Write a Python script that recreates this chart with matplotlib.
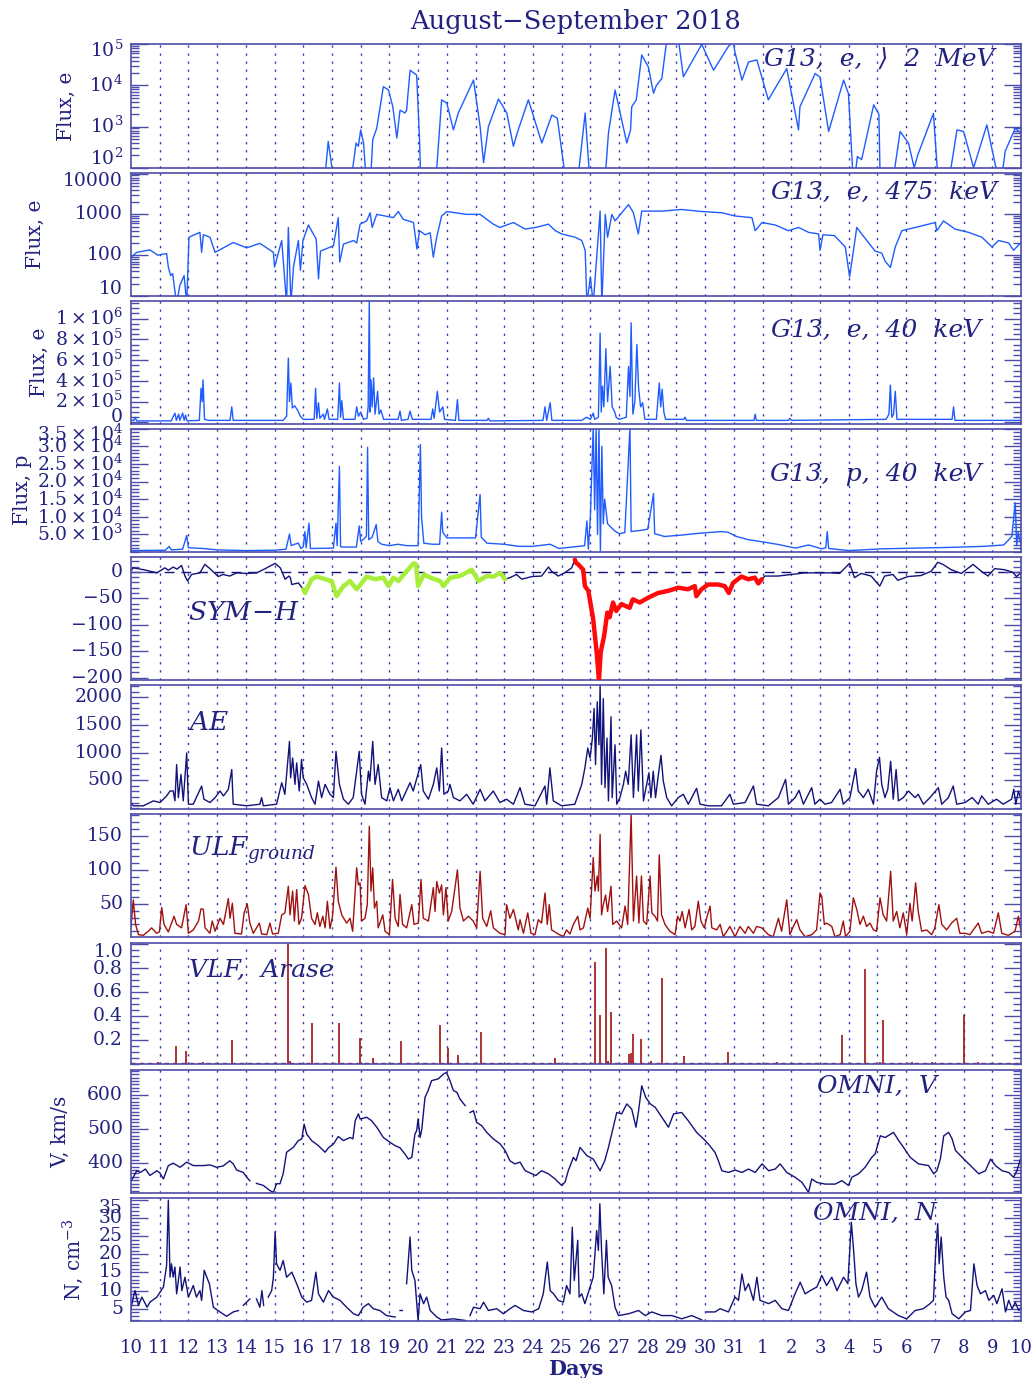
import numpy as np
import matplotlib
matplotlib.use('Agg')
import matplotlib.pyplot as plt
import matplotlib.transforms as mtransforms
from matplotlib.ticker import FixedLocator, MultipleLocator, LogLocator, NullFormatter

plt.rcParams['font.family'] = ['DejaVu Serif', 'DejaVu Sans']
plt.rcParams['mathtext.fontset'] = 'dejavuserif'

nan = float('nan')

# ---------------- DATA (t = days since 10 Aug 2018 00 UT) ----------------
DAY_LABELS = ['10', '11', '12', '13', '14', '15', '16', '17', '18', '19', '20', '21', '22', '23', '24',
              '25', '26', '27', '28', '29', '30', '31', '1', '2', '3', '4', '5', '6', '7', '8', '9', '10']

# G13 electrons > 2 MeV (log10 flux)
E2_t = [0, 6.72, 6.87, 7.1, 7.63, 7.84, 7.92, 8.0, 8.1, 8.21, 8.33, 8.42, 8.56, 8.79, 8.97, 9.12, 9.26,
        9.37, 9.54, 9.6, 9.72, 9.95, 10.05, 10.1, 10.6, 10.82, 11.0, 11.23, 11.4, 11.93, 12.16, 12.28,
        12.45, 12.8, 13.09, 13.32, 13.45, 13.84, 14.31, 14.66, 14.85, 15.18, 15.53, 15.82, 16.0, 16.49,
        16.63, 16.86, 17.27, 17.4, 17.44, 17.6, 17.79, 18.02, 18.2, 18.3, 18.49, 18.66, 19.07, 19.24,
        19.88, 20.29, 20.81, 20.98, 21.04, 21.28, 21.51, 21.8, 22.2, 22.84, 23.25, 23.3, 23.83, 24.0,
        24.3, 24.82, 24.99, 25.17, 25.3, 25.45, 25.87, 26.05, 26.1, 26.5, 26.79, 27.08, 27.28, 27.4,
        27.95, 28.13, 28.45, 28.77, 29.0, 29.35, 29.81, 30.28, 30.45, 30.8, 31.0]
E2_log = [1.5, 1.5, 2.64, 1.5, 1.5, 2.60, 2.52, 2.92, 2.6, 1.5, 1.5, 2.68, 2.96, 3.97, 3.89, 3.48, 2.72,
          3.4, 3.33, 3.4, 4.37, 4.25, 2.68, 1.5, 1.5, 3.65, 3.57, 2.92, 3.33, 4.13, 3.0, 2.12,
          3.0, 3.67, 3.33, 2.52, 2.84, 3.65, 2.6, 3.28, 3.2, 1.5, 1.5, 3.33, 1.5, 1.5,
          2.84, 3.89, 2.6, 2.92, 3.48, 3.65, 4.74, 4.45, 3.81, 4.0, 4.17, 5.1, 5.1, 4.21,
          5.0, 4.37, 4.95, 5.05, 4.8, 4.13, 4.57, 4.62, 3.65, 4.41, 2.92, 3.48, 4.29, 4.2,
          2.88, 4.13, 3.8, 1.5, 2.27, 2.2, 3.53, 3.3, 1.5, 1.5, 2.88, 2.6, 2.0, 2.3,
          3.32, 1.5, 1.5, 2.92, 2.88, 2.0, 3.04, 1.5, 2.4, 2.96, 2.84]

# G13 electrons 475 keV (log10 flux)
E475_t = [0, 0.2, 0.66, 0.93, 1.24, 1.3, 1.38, 1.45, 1.59, 1.7, 1.85, 1.94, 2.02, 2.4, 2.46, 2.52, 2.75,
          2.93, 3.56, 4.03, 4.49, 4.96, 5.0, 5.25, 5.42, 5.48, 5.57, 5.66, 5.83, 5.9, 5.99, 6.18, 6.35,
          6.45, 6.53, 6.6, 7.05, 7.22, 7.27, 7.4, 7.75, 7.86, 7.98, 8.21, 8.33, 8.4, 8.56, 9.14, 9.31,
          9.48, 9.84, 9.96, 10.05, 10.25, 10.42, 10.53, 10.65, 10.82, 11.0, 11.69, 12.16, 12.62, 12.85,
          13.32, 13.73, 14.1, 14.54, 14.78, 15.0, 15.47, 15.7, 15.82, 15.88, 16.0, 16.1, 16.34, 16.4,
          16.52, 16.6, 16.75, 16.86, 17.33, 17.5, 17.67, 17.79, 18.49, 19.18, 19.88, 20.58, 21.04,
          21.63, 21.74, 21.98, 22.44, 22.9, 23.25, 23.6, 23.95, 24.0, 24.1, 24.5, 24.88, 25.03, 25.28,
          25.45, 25.92, 26.15, 26.27, 26.45, 26.62, 26.85, 27.32, 28.01, 28.07, 28.3, 28.7, 29.17,
          29.64, 29.99, 30.22, 30.57, 30.74, 31.0]
E475_log = [1.95, 2.07, 2.13, 2.0, 2.04, 1.71, 1.5, 1.55, 0.8, 1.26, 1.5, 0.8, 2.44, 2.56, 2.07, 2.5, 2.44,
            2.07, 2.31, 2.18, 2.29, 2.07, 1.71, 2.36, 0.8, 2.68, 0.8, 1.71, 2.36, 1.63, 2.36, 2.74, 2.52,
            2.4, 1.42, 2.1, 2.23, 2.92, 1.83, 2.27, 2.36, 2.3, 2.76, 2.84, 3.04, 2.68, 3.0, 2.92, 3.07,
            2.88, 2.8, 2.15, 2.6, 2.5, 2.55, 1.95, 2.45, 2.96, 3.07, 3.0, 3.0, 2.76, 2.68,
            2.8, 2.64, 2.68, 2.76, 2.6, 2.52, 2.44, 2.36, 2.12, 0.8, 1.47, 0.8, 3.08, 0.8,
            3.0, 2.44, 3.0, 2.84, 3.24, 3.04, 2.52, 3.08, 3.08, 3.12, 3.07, 3.04, 2.96,
            2.92, 2.6, 2.8, 2.74, 2.6, 2.68, 2.56, 2.52, 2.12, 2.5, 2.48, 2.2, 1.47, 2.68,
            2.52, 2.1, 2.05, 1.85, 1.7, 2.2, 2.6, 2.68, 2.8, 2.6, 2.84, 2.64, 2.56,
            2.44, 2.2, 2.36, 2.3, 2.12, 2.31]

# G13 electrons 40 keV (units of 1e5)
E40_t = [0, 0.1, 0.14, 0.2, 1.4, 1.53, 1.58, 1.66, 1.7, 1.8, 1.85, 1.9, 1.95, 2.38, 2.44, 2.48, 2.51, 2.56,
         2.7, 3.45, 3.51, 3.56, 5.3, 5.42, 5.48, 5.52, 5.57, 5.62, 5.7, 5.8, 5.9, 6.0, 6.38, 6.43, 6.47,
         6.53, 6.58, 6.7, 6.74, 6.84, 6.9, 7.2, 7.26, 7.3, 7.34, 7.4, 7.8, 7.86, 7.92, 8.0, 8.1, 8.22,
         8.26, 8.3, 8.33, 8.36, 8.4, 8.45, 8.5, 8.59, 8.64, 8.7, 8.8, 9.3, 9.37, 9.42, 9.65, 9.72, 9.8,
         10.45, 10.51, 10.56, 10.67, 10.75, 10.86, 10.92, 11.3, 11.37, 11.42, 12.4, 12.45, 12.5, 14.35,
         14.42, 14.48, 14.6, 14.66, 15.7, 15.86, 16.0, 16.1, 16.15, 16.28, 16.34, 16.38, 16.42, 16.47,
         16.54, 16.6, 16.69, 16.76, 16.85, 16.9, 17.0, 17.25, 17.33, 17.38, 17.42, 17.48, 17.55, 17.62,
         17.68, 17.75, 17.82, 17.9, 18.3, 18.4, 18.45, 18.5, 18.56, 18.62, 19.25, 19.3, 19.35, 21.7,
         21.74, 21.78, 22.9, 22.95, 23.0, 26.3, 26.4, 26.45, 26.5, 26.56, 26.62, 26.68, 26.9, 28.6,
         28.65, 28.7, 31.0]
E40_v = [0.2, 0.2, 0.5, 0.15, 0.15, 0.9, 0.2, 0.8, 0.2, 0.9, 0.2, 0.7, 0.15, 0.2, 3.3, 2.0, 4.1, 0.3,
         0.2, 0.2, 1.5, 0.2, 0.2, 0.6, 6.2, 2.0, 3.8, 1.4, 1.6, 1.2, 0.6, 0.3, 0.3, 3.3, 0.4,
         1.9, 0.4, 0.8, 0.3, 1.3, 0.3, 0.3, 3.8, 0.5, 2.1, 0.3, 0.3, 1.5, 0.6, 1.0, 0.3, 0.4,
         1.5, 11.7, 1.0, 4.1, 1.5, 4.3, 0.8, 3.0, 0.8, 1.2, 0.3, 0.3, 1.1, 0.2, 0.3, 1.1, 0.3,
         0.3, 1.3, 0.4, 3.0, 1.0, 1.5, 0.3, 0.2, 2.2, 0.2, 0.2, 0.4, 0.15, 0.2,
         1.5, 0.2, 1.9, 0.2, 0.2, 0.5, 0.3, 0.9, 0.3, 0.5, 8.6, 1.0, 3.5, 1.5,
         7.1, 2.0, 5.4, 1.5, 1.0, 0.5, 0.3, 0.5, 5.4, 2.5, 9.6, 0.8, 2.0, 7.5,
         3.3, 1.5, 1.9, 0.3, 0.3, 3.8, 1.5, 3.2, 1.0, 0.3, 0.3, 0.5, 0.2, 0.2,
         0.8, 0.2, 0.2, 0.4, 0.2, 0.3, 0.8, 3.6, 0.5, 0.8, 3.0, 0.3, 0.3, 0.3,
         1.5, 0.2, 0.2]

# G13 protons 40 keV (units of 1e3)
P40_t = [0, 1.2, 1.33, 1.4, 1.8, 1.94, 2.0, 2.5, 3.0, 4.0, 5.0, 5.4, 5.52, 5.58, 5.7, 5.83, 5.92, 6.0, 6.06,
         6.1, 6.2, 6.25, 7.05, 7.14, 7.18, 7.26, 7.3, 7.4, 7.85, 7.95, 8.0, 8.1, 8.2, 8.24, 8.28, 8.4,
         8.54, 8.6, 8.73, 9.0, 9.3, 9.6, 10.0, 10.08, 10.12, 10.2, 10.5, 10.75, 10.82, 10.86, 11.0, 11.5,
         12.0, 12.16, 12.2, 12.4, 13.0, 13.5, 14.0, 14.6, 14.9, 15.6, 15.8, 15.88, 15.93, 16.0, 16.1,
         16.15, 16.2, 16.25, 16.3, 16.35, 16.4, 16.45, 16.5, 16.6, 16.72, 16.85, 17.0, 17.2, 17.38,
         17.42, 17.6, 17.82, 18.0, 18.2, 18.24, 18.58, 19.18, 19.76, 20.58, 20.8, 21.09, 21.5, 21.98,
         22.5, 23.15, 23.6, 24.06, 24.2, 24.25, 24.3, 25.0, 26.15, 27.3, 28.5, 29.7, 30.4, 30.68, 30.8,
         30.85, 30.9, 31.0]
P40_v = [0.4, 0.5, 1.6, 0.6, 0.8, 4.7, 1.2, 1.0, 0.6, 0.4, 0.5, 0.8, 5.1, 1.8, 2.2, 2.5, 1.0, 1.5, 5.8,
         1.2, 8.2, 1.0, 1.1, 8.2, 1.8, 24.3, 1.5, 1.4, 1.4, 7.4, 3.0, 3.6, 4.5, 29.7, 3.5, 4.2,
         7.8, 3.0, 2.2, 1.8, 2.2, 1.8, 1.8, 30.5, 10.0, 2.5, 2.2, 2.2, 11.3, 5.6, 4.0, 4.0,
         4.0, 16.3, 4.2, 2.5, 2.2, 1.6, 1.6, 2.2, 1.0, 1.6, 1.8, 8.8, 0.8, 10.0, 35.5,
         12.0, 35.5, 5.0, 35.5, 0.3, 30.0, 8.0, 15.0, 8.0, 7.0, 6.0, 5.2, 5.5, 35.5,
         5.8, 6.0, 6.2, 6.5, 16.6, 5.2, 4.4, 4.8, 5.3, 5.8, 5.6, 4.4, 3.5, 2.9,
         2.2, 1.1, 2.0, 0.9, 1.2, 5.8, 1.0, 0.4, 0.9, 1.1, 1.3, 1.6, 2.0, 4.4, 14.0,
         1.8, 5.5, 2.0]

# SYM-H (nT)
SYMH_t = [0, 0.07, 0.44, 0.9, 1.18, 1.3, 1.47, 1.6, 1.76, 1.88, 1.97, 2.11, 2.4, 2.57, 2.75, 3.04, 3.2,
          3.44, 3.68, 4.03, 4.38, 4.73, 5.02, 5.2, 5.37, 5.5, 5.55, 5.6, 5.83, 6.0, 6.06, 6.29, 6.47,
          6.76, 6.99, 7.16, 7.4, 7.63, 7.86, 8.04, 8.21, 8.5, 8.79, 8.97, 9.14, 9.31, 9.55, 9.84, 9.93,
          10.0, 10.2, 10.42, 10.77, 10.88, 11.12, 11.46, 11.87, 12.1, 12.39, 12.62, 12.86, 13.03, 13.2,
          13.43, 13.61, 13.96, 14.3, 14.54, 14.65, 14.88, 15.1, 15.35, 15.46, 15.5, 15.58, 15.75, 15.81,
          15.93, 16.1, 16.22, 16.3, 16.36, 16.48, 16.59, 16.67, 16.79, 16.9, 17.08, 17.37, 17.48, 17.72,
          18.01, 18.36, 18.71, 19.06, 19.4, 19.64, 19.69, 19.87, 20.1, 20.45, 20.68, 20.82, 20.97, 21.26,
          21.5, 21.73, 21.85, 21.97, 22.08, 22.54, 23.0, 23.47, 23.93, 24.39, 24.68, 25.03, 25.2, 25.43,
          25.78, 26.08, 26.25, 26.54, 26.71, 27.06, 27.52, 27.87, 28.1, 28.28, 28.57, 28.92, 29.33,
          29.62, 29.85, 30.08, 30.43, 30.72, 30.84, 31.0]
SYMH_v = [1, 7.5, 4, -2, 7.5, 3, 9, 5, 12, -8, -17.5, -5, -2, 14, 6, -9, -5,
          -8, -2, -3, -2, 7.5, 16, 7.5, -14, -8, -11, -24, -21, -33, -40, -14, -9,
          -14, -17.5, -46, -27, -17.5, -33, -21, -9, -14, -11, -27, -11, -17.5, -2, 16, 14,
          -27, -5, -11, -17.5, -27, -11, -8, 4, -17.5, -8, -9, -2, -14, -11,
          -5, -14, -9, -8, 9, 1, -8, -2, 7.5, 23, 17, 14, 4, -27,
          -36, -90, -152, -205, -152, -121, -77, -86, -58, -74, -61, -68, -52, -58,
          -49, -40, -36, -30, -33, -27, -46, -33, -24, -24, -27, -40, -21, -9,
          -14, -11, -22, -14, -8, -8, -5, -2, -2, -2, -3, 16, -11, -3,
          -8, -27, -8, -5, -16, -9, -7, 1, 18, 14, 4, -3, 14,
          1, -8, 6, 4, -1, -9, -2]
GREEN_INTERVAL = (6.0, 13.03)
RED_INTERVAL = (15.46, 21.97)

# AE (nT)
AE_t = [0, 0.08, 0.43, 0.78, 1.01, 1.24, 1.36, 1.47, 1.53, 1.59, 1.65, 1.74, 1.82, 1.94, 2.0, 2.17, 2.46,
        2.54, 2.75, 2.93, 3.1, 3.22, 3.39, 3.51, 3.56, 4.03, 4.49, 4.55, 4.61, 5.07, 5.25, 5.36, 5.52,
        5.56, 5.63, 5.71, 5.77, 5.86, 5.94, 6.0, 6.12, 6.29, 6.41, 6.53, 6.64, 6.76, 6.93, 7.05, 7.14,
        7.26, 7.4, 7.57, 7.74, 7.95, 8.03, 8.15, 8.27, 8.32, 8.42, 8.5, 8.61, 8.73, 8.91, 9.02, 9.14,
        9.31, 9.43, 9.72, 9.83, 10.09, 10.18, 10.36, 10.53, 10.65, 10.74, 10.82, 10.9, 11.05, 11.11,
        11.23, 11.46, 11.69, 11.92, 12.16, 12.33, 12.62, 12.85, 13.08, 13.32, 13.55, 13.72, 14.07,
        14.42, 14.48, 14.59, 14.71, 15.0, 15.46, 15.7, 15.81, 15.91, 15.99, 16.07, 16.13, 16.18, 16.24,
        16.3, 16.34, 16.39, 16.45, 16.51, 16.58, 16.63, 16.72, 16.76, 16.86, 16.92, 17.03, 17.15,
        17.23, 17.32, 17.42, 17.5, 17.61, 17.67, 17.76, 17.85, 17.96, 18.04, 18.11, 18.19, 18.27,
        18.37, 18.46, 18.54, 18.66, 18.83, 19.06, 19.24, 19.41, 19.7, 19.82, 20.11, 20.57, 20.86,
        20.98, 21.39, 21.68, 21.79, 22.2, 22.55, 22.8, 22.9, 23.13, 23.27, 23.42, 23.71, 23.82, 24.0,
        24.17, 24.4, 24.7, 24.81, 25.04, 25.24, 25.33, 25.51, 25.68, 25.86, 25.97, 26.07, 26.15,
        26.26, 26.36, 26.46, 26.55, 26.65, 26.73, 26.9, 27.08, 27.31, 27.42, 27.6, 27.83, 28.12,
        28.24, 28.47, 28.64, 28.76, 29.05, 29.3, 29.51, 29.63, 29.86, 30.15, 30.38, 30.67, 30.75,
        30.82, 30.91, 31.0]
AE_v = [101, 42, 42, 131, 101, 220, 309, 309, 131, 785, 190, 607, 131, 994, 71, 71, 399,
        161, 101, 190, 309, 220, 339, 696, 71, 42, 71, 190, 42, 71, 458, 250, 1202,
        547, 904, 428, 815, 309, 875, 547, 428, 190, 71, 488, 190, 428, 250, 190, 1023,
        428, 161, 71, 190, 1023, 250, 71, 666, 488, 1202, 428, 785, 190, 131, 369, 131,
        339, 131, 458, 309, 785, 309, 161, 428, 726, 309, 1083, 250, 309, 428,
        190, 131, 250, 71, 339, 131, 309, 101, 161, 71, 369, 71, 42,
        399, 71, 726, 131, 42, 71, 428, 726, 1083, 904, 1261, 1797, 785, 1916,
        1142, 2213, 428, 1975, 369, 1261, 131, 1648, 190, 1142, 71, 190, 428,
        666, 428, 1321, 190, 1321, 309, 1410, 131, 428, 637, 190, 666, 190,
        607, 952, 488, 190, 42, 190, 250, 71, 357, 71, 42, 42, 250,
        71, 101, 399, 71, 42, 190, 518, 71, 190, 321, 71, 369, 71, 161,
        71, 101, 339, 71, 190, 714, 309, 190, 339, 71, 666, 916, 428,
        190, 339, 845, 161, 696, 131, 190, 309, 190, 250, 71, 190, 369,
        71, 190, 399, 71, 101, 190, 71, 220, 71, 161, 71, 161, 339,
        71, 309, 161]

# ULF ground index
ULF_t = [0, 0.08, 0.16, 0.26, 0.43, 0.6, 0.72, 0.89, 0.99, 1.07, 1.15, 1.3, 1.5, 1.59, 1.76, 1.92, 2.0,
         2.17, 2.35, 2.44, 2.52, 2.58, 2.75, 2.83, 2.93, 3.1, 3.22, 3.39, 3.45, 3.53, 3.62, 3.85, 3.94,
         4.05, 4.14, 4.26, 4.47, 4.55, 4.73, 4.84, 4.93, 5.13, 5.25, 5.36, 5.48, 5.54, 5.63, 5.69, 5.77,
         5.85, 5.94, 6.06, 6.18, 6.29, 6.41, 6.49, 6.58, 6.68, 6.76, 6.84, 6.93, 7.02, 7.14, 7.22, 7.34,
         7.51, 7.63, 7.72, 7.86, 7.92, 7.98, 8.03, 8.15, 8.23, 8.3, 8.36, 8.42, 8.48, 8.56, 8.61, 8.77,
         8.85, 9.0, 9.11, 9.2, 9.31, 9.37, 9.46, 9.6, 9.78, 9.86, 10.01, 10.1, 10.18, 10.36, 10.53,
         10.59, 10.65, 10.74, 10.82, 10.88, 10.97, 11.05, 11.17, 11.37, 11.46, 11.58, 11.75, 11.92,
         12.04, 12.16, 12.25, 12.39, 12.53, 12.62, 12.85, 13.03, 13.08, 13.2, 13.32, 13.49, 13.55,
         13.67, 13.82, 13.93, 14.07, 14.19, 14.3, 14.42, 14.5, 14.57, 14.65, 14.88, 15.06, 15.17,
         15.29, 15.41, 15.56, 15.64, 15.76, 15.91, 15.99, 16.1, 16.16, 16.24, 16.28, 16.34, 16.39,
         16.45, 16.53, 16.6, 16.72, 16.78, 16.92, 17.0, 17.09, 17.21, 17.3, 17.42, 17.5, 17.61, 17.69,
         17.78, 17.85, 17.96, 18.08, 18.14, 18.25, 18.34, 18.4, 18.48, 18.6, 18.77, 18.95, 19.04,
         19.12, 19.2, 19.3, 19.44, 19.53, 19.64, 19.76, 19.85, 19.97, 20.05, 20.17, 20.23, 20.4,
         20.52, 20.63, 20.86, 21.04, 21.21, 21.39, 21.5, 21.68, 21.79, 21.97, 22.2, 22.37, 22.55,
         22.66, 22.84, 22.95, 23.07, 23.19, 23.3, 23.48, 23.71, 23.88, 24.0, 24.06, 24.15, 24.23,
         24.41, 24.52, 24.7, 24.81, 24.89, 25.04, 25.16, 25.28, 25.39, 25.51, 25.62, 25.74, 25.86,
         25.97, 26.09, 26.2, 26.32, 26.46, 26.55, 26.67, 26.78, 26.9, 27.02, 27.13, 27.21, 27.33,
         27.42, 27.54, 27.71, 27.89, 28.0, 28.14, 28.24, 28.41, 28.58, 28.76, 28.87, 29.05, 29.22,
         29.51, 29.63, 29.86, 30.04, 30.21, 30.33, 30.56, 30.79, 30.91, 31.0]
ULF_v = [17, 56, 20, 5, 4, 10, 15, 7, 9, 45, 20, 9, 32, 20, 15, 49, 7,
         12, 25, 43, 42, 15, 7, 25, 10, 29, 20, 58, 29, 51, 7, 6, 37,
         50, 22, 7, 22, 6, 5, 22, 6, 7, 34, 37, 76, 34, 69, 25, 71,
         20, 29, 77, 64, 29, 20, 37, 17, 32, 15, 54, 14, 32, 104, 54, 34,
         22, 29, 10, 103, 78, 81, 25, 29, 49, 164, 69, 103, 44, 54, 15, 34,
         10, 5, 86, 29, 17, 64, 20, 15, 49, 20, 22, 86, 29, 25, 74,
         39, 83, 66, 78, 34, 74, 25, 39, 100, 44, 25, 32, 25,
         15, 98, 29, 17, 40, 15, 7, 5, 49, 29, 42, 12, 27,
         7, 37, 7, 5, 27, 22, 66, 20, 49, 12, 6, 2, 12,
         6, 20, 32, 12, 15, 44, 29, 118, 69, 91, 69, 152, 34,
         49, 63, 39, 76, 20, 25, 20, 15, 47, 20, 181, 25, 91, 22,
         91, 25, 20, 91, 37, 32, 25, 122, 34, 20, 10, 5, 32,
         25, 39, 15, 42, 12, 17, 54, 25, 15, 29, 47, 15, 12,
         20, 2, 17, 2, 17, 7, 17, 7, 17, 15, 5, 2, 29,
         10, 56, 5, 17, 27, 12, 2, 5, 12, 66, 61, 20, 22,
         17, 2, 5, 25, 2, 10, 59, 42, 20, 32, 17, 22, 12,
         10, 59, 34, 25, 98, 25, 39, 15, 37, 5, 51, 25, 81,
         39, 10, 12, 5, 15, 49, 20, 12, 22, 29, 7, 7, 5,
         22, 7, 10, 7, 37, 7, 4, 10, 32, 10]

# VLF, Arase (spike times and amplitudes)
VLF_t = [0.95, 1.55, 1.9, 2.5, 3.52, 5.48, 5.55, 6.29, 7.26, 7.99, 8.42, 9.41, 10.78, 11.04, 11.39, 12.18,
         14.77, 16.16, 16.33, 16.53, 16.6, 16.71, 17.35, 17.4, 17.5, 17.77, 18.1, 18.5, 19.27, 20.8,
         22.5, 24.77, 25.58, 26.1, 26.19, 27.2, 27.9, 29.01, 29.5]
VLF_v = [0.01, 0.15, 0.105, 0.01, 0.2, 1.03, 0.02, 0.34, 0.34, 0.215, 0.05, 0.185, 0.32, 0.13, 0.075, 0.265,
         0.045, 0.85, 0.405, 0.96, 0.02, 0.43, 0.08, 0.085, 0.25, 0.205, 0.02, 0.71, 0.065, 0.095,
         0.01, 0.24, 0.79, 0.01, 0.36, 0.01, 0.015, 0.405, 0.01]

# OMNI solar wind speed (km/s)
V_t = [0, 0.08, 0.2, 0.33, 0.5, 0.66, 0.9, 1.0, 1.13, 1.3, 1.47, 1.71, 1.94, 2.17, 2.52, 2.75, 2.98, 3.21,
       3.44, 3.56, 3.68, 3.91, 4.08, 4.14, 4.25, 4.37, 4.61, 4.84, 4.96, 5.07, 5.19, 5.3, 5.42, 5.65,
       5.83, 5.95, 6.03, 6.12, 6.29, 6.53, 6.76, 6.88, 7.05, 7.22, 7.4, 7.63, 7.73, 7.81, 7.92, 7.98,
       8.21, 8.38, 8.56, 8.79, 9.02, 9.2, 9.37, 9.54, 9.66, 9.78, 9.89, 9.95, 10.0, 10.07, 10.13,
       10.24, 10.35, 10.47, 10.7, 10.88, 10.99, 11.11, 11.23, 11.35, 11.46, 11.64, 11.72, 11.81, 11.93,
       12.04, 12.22, 12.39, 12.62, 12.86, 13.03, 13.2, 13.37, 13.55, 13.73, 14.1, 14.3, 14.54, 14.77,
       15.0, 15.12, 15.23, 15.41, 15.5, 15.64, 15.88, 16.1, 16.34, 16.5, 16.63, 16.8, 16.92, 17.09,
       17.27, 17.44, 17.59, 17.68, 17.79, 17.93, 18.09, 18.26, 18.49, 18.72, 18.9, 19.18, 19.41,
       19.7, 19.94, 20.11, 20.34, 20.46, 20.58, 20.81, 21.04, 21.28, 21.51, 21.74, 21.98, 22.21,
       22.44, 22.61, 22.84, 23.13, 23.37, 23.6, 23.71, 23.89, 24.18, 24.53, 24.76, 24.99, 25.11,
       25.34, 25.57, 25.8, 25.92, 26.1, 26.27, 26.56, 26.74, 26.91, 27.14, 27.43, 27.78, 27.96,
       28.07, 28.19, 28.31, 28.48, 28.6, 28.72, 29.01, 29.3, 29.53, 29.76, 29.94, 30.11, 30.34,
       30.57, 30.74, 30.86, 30.98]
V_v = [349, 359, 378, 373, 383, 364, 378, 372, 354, 393, 400, 388, 403, 393, 393, 395, 388, 392,
       407, 398, 380, 373, 354, 349, nan, 341, 335, 320, 315, 340, 340, 369, 432, 446,
       466, 471, 514, 485, 466, 451, 432, 445, 456, 478, 466, 475, 471, 524, 544, 529,
       534, 524, 505, 475, 461, 451, 445, 427, 412, 417, 485, 495, 529, 475, 500,
       592, 612, 641, 646, 660, 665, 641, 612, 607, 587, 568, nan, 548, 553,
       519, 509, 490, 471, 456, 437, 407, 398, 403, 378, 364, 378, 369, 354,
       335, 345, 378, 417, 407, 446, 422, 412, 378, 407, 446, 505, 548, 544,
       573, 558, 505, 553, 626, 592, 573, 563, 534, 505, 544, 548, 524,
       490, 471, 456, 432, 407, 378, 373, 380, 373, 383, 373, 398, 378,
       383, 398, 373, 359, 344, 315, 354, 344, 339, 339, 349, 335, 359,
       369, 388, 417, 427, 480, 475, 490, 466, 446, 417, 398, 393, 369,
       378, 412, 480, 490, 471, 437, 412, 388, 369, 378, 412, 393, 378,
       373, 359, 378, 412]

# OMNI proton density (cm^-3)
N_t = [0, 0.08, 0.14, 0.26, 0.38, 0.56, 0.66, 0.9, 1.13, 1.24, 1.3, 1.36, 1.41, 1.47, 1.53, 1.59, 1.71,
       1.77, 1.88, 2.0, 2.17, 2.28, 2.4, 2.46, 2.55, 2.64, 2.73, 2.87, 3.1, 3.33, 3.56, 3.74, 3.82,
       3.91, 4.14, 4.25, 4.37, 4.49, 4.56, 4.62, 4.67, 4.78, 4.9, 4.96, 5.02, 5.07, 5.19, 5.3, 5.42,
       5.6, 5.77, 5.95, 6.12, 6.29, 6.44, 6.53, 6.7, 6.88, 7.05, 7.28, 7.51, 7.75, 7.92, 8.09, 8.27,
       8.44, 8.67, 8.9, 9.2, 9.28, 9.37, 9.45, 9.52, 9.6, 9.72, 9.78, 9.89, 10.0, 10.07, 10.19, 10.3,
       10.42, 10.65, 10.82, 11.23, 11.64, 11.72, 11.81, 11.93, 12.16, 12.28, 12.45, 12.74, 12.97,
       13.2, 13.38, 13.67, 13.96, 14.2, 14.36, 14.5, 14.6, 14.72, 14.88, 15.06, 15.17, 15.29, 15.37,
       15.44, 15.5, 15.56, 15.61, 15.7, 15.81, 15.99, 16.1, 16.22, 16.28, 16.33, 16.39, 16.47, 16.56,
       16.62, 16.74, 16.86, 16.98, 17.33, 17.68, 17.91, 18.14, 18.49, 18.84, 19.18, 19.53, 19.88,
       19.96, 20.05, 20.34, 20.52, 20.81, 21.04, 21.16, 21.28, 21.39, 21.51, 21.68, 21.8, 21.91,
       22.21, 22.44, 22.67, 22.9, 23.13, 23.31, 23.48, 23.66, 23.89, 24.06, 24.23, 24.41, 24.59,
       24.82, 24.97, 25.09, 25.17, 25.25, 25.34, 25.45, 25.62, 25.74, 25.92, 26.15, 26.38, 26.73,
       27.02, 27.31, 27.6, 27.83, 27.95, 28.03, 28.1, 28.15, 28.22, 28.31, 28.39, 28.48, 28.6,
       28.83, 29.06, 29.24, 29.36, 29.47, 29.59, 29.76, 29.88, 30.05, 30.16, 30.34, 30.46, 30.57,
       30.69, 30.8, 30.92, 31.0]
N_v = [5.0, 8.2, 10.0, 5.9, 8.2, 5.4, 6.8, 8.2, 11.0, 17.0, 35.0, 13.7, 17.4, 13.7, 16.5, 9.1, 16.5,
       10.0, 13.7, 8.2, 11.4, 8.2, 10.0, 7.3, 15.6, 13.7, 11.9, 5.4, 4.1, 2.9, 4.1, 4.5, nan,
       5.9, 7.7, nan, 7.7, 5.4, 10.0, 5.9, nan, 8.2, 10.0, 13.7, 26.2, 17.4, 15.6, 18.3, 13.7,
       15.1, 11.9, 8.2, 6.8, 7.3, 15.1, 9.1, 6.8, 10.0, 8.2, 7.3, 5.4, 3.6, 3.1, 5.4, 6.4,
       5.0, 4.5, 3.1, 2.7, nan, 4.5, 4.5, nan, 11.9, 24.8, 15.6, 12.8, 1.75, 9.1, 6.4, 8.2,
       4.5, 2.7, 1.9, 2.2, 1.75, nan, 3.1, 5.4, 5.0, 6.8, 4.5, 5.0, 3.6,
       5.0, 5.9, 4.5, 4.1, 5.0, 9.1, 17.9, 10.0, 9.1, 7.3, 6.8, 11.4, 9.1, 27.5,
       12.8, 18.3, 23.9, 8.2, 9.1, 6.4, 11.0, 13.7, 26.6, 21.1, 34.0, 21.1, 9.1, 23.9,
       13.7, 11.4, 5.4, 3.1, 3.6, 4.5, 3.1, 4.1, 3.1, 3.1, 2.2, 3.1, 1.9,
       nan, 4.1, 4.1, 5.0, 4.1, 8.2, 7.3, 14.6, 10.0, 11.9, 7.3, 13.7, 7.3,
       6.4, 7.3, 5.0, 4.5, 9.1, 12.3, 9.1, 10.0, 11.0, 14.2, 11.4, 13.7, 10.0,
       13.7, 11.9, 28.9, 21.1, 11.9, 8.2, 10.0, 15.1, 8.2, 5.4, 8.2, 5.0, 3.1,
       2.2, 4.5, 5.0, 6.4, 7.3, 21.1, 28.5, 17.4, 24.8, 13.7, 8.2, 7.3, 3.6,
       2.2, 4.1, 4.5, 17.4, 11.4, 9.1, 10.0, 7.3, 8.7, 6.4, 10.5, 4.1, 7.3,
       5.0, 6.8, 4.5, 5.4]

# ---------------- STYLE ----------------
W, H = 1035, 1378
NAVY = '#12127a'
TXT = '#222280'
FRAME = '#4d4dab'
GRID = '#3535a8'
BLUE = '#1f5cff'
DRED = '#a01010'
GREEN = '#a6ee3a'
RED = '#ff0a0a'
TICKFS = 13.5

fig = plt.figure(figsize=(W / 100, H / 100), dpi=100)

TOPS = [44.3, 172.7, 301, 428.7, 557, 685.3, 814, 943, 1070, 1198.3]
BOTS = [167.7, 296, 423.7, 552, 680.3, 808.7, 936.7, 1064, 1193, 1321]
X0, X1 = 131, 1021


def px(x, y):
    return x / W, 1 - y / H


def ylabels(ax, vals, strs, dys=None):
    """Major y ticks; labels drawn as text, dys = vertical pixel shift (down positive) of each label."""
    ax.yaxis.set_major_locator(FixedLocator(vals))
    ax.yaxis.set_major_formatter(NullFormatter())
    tr = mtransforms.blended_transform_factory(ax.transAxes, ax.transData)
    for k, (v, s) in enumerate(zip(vals, strs)):
        dy = 0 if dys is None else dys[k]
        off = mtransforms.ScaledTranslation(-8 / 100, -dy / 100, fig.dpi_scale_trans)
        ax.text(0, v, s, transform=tr + off, ha='right', va='center', fontsize=TICKFS, color=TXT,
                clip_on=False)


axes = []
for i in range(10):
    ax = fig.add_axes([X0 / W, 1 - BOTS[i] / H, (X1 - X0) / W, (BOTS[i] - TOPS[i]) / H])
    ax.set_xlim(0, 31)
    for s in ax.spines.values():
        s.set_color(FRAME)
        s.set_linewidth(1.2)
    for d in range(1, 31):
        ax.axvline(d, color=GRID, lw=1.0, ls=(0, (1.6, 4.2)), zorder=0)
    ax.set_xticks(range(32))
    ax.tick_params(axis='x', length=0, labelbottom=False, colors=TXT)
    ax.tick_params(axis='y', which='both', direction='in', left=True, right=True,
                   color=FRAME, width=1.0)
    ax.tick_params(axis='y', which='major', length=12.5)
    ax.tick_params(axis='y', which='minor', length=5.5)
    axes.append(ax)

t_arr = lambda a: np.asarray(a, dtype=float)

# Panel 1: >2 MeV
ax = axes[0]
ax.plot(t_arr(E2_t), 10 ** t_arr(E2_log), color=BLUE, lw=1.0)
ax.set_yscale('log')
ax.set_ylim(1e2, 1e5)
ax.yaxis.set_minor_locator(LogLocator(base=10, subs=np.arange(2, 10), numticks=20))
ax.yaxis.set_minor_formatter(NullFormatter())
ylabels(ax, [1e2, 1e3, 1e4, 1e5], [r'$10^{2}$', r'$10^{3}$', r'$10^{4}$', r'$10^{5}$'], [-9, 0, 0, 6])

# Panel 2: 475 keV
ax = axes[1]
ax.plot(t_arr(E475_t), 10 ** t_arr(E475_log), color=BLUE, lw=1.0)
ax.set_yscale('log')
ax.set_ylim(10, 1.05e4)
ax.yaxis.set_minor_locator(LogLocator(base=10, subs=np.arange(2, 10), numticks=20))
ax.yaxis.set_minor_formatter(NullFormatter())
ylabels(ax, [10, 100, 1000, 10000], ['10', '100', '1000', '10000'], [-7, 0, 0, 7])

# Panel 3: e 40 keV
ax = axes[2]
ax.plot(t_arr(E40_t), t_arr(E40_v) * 1e5, color=BLUE, lw=1.0)
ax.set_ylim(-1.2e4, 1.17e6)
ax.yaxis.set_minor_locator(MultipleLocator(5e4))
ylabels(ax, [0, 2e5, 4e5, 6e5, 8e5, 1e6],
        ['0', r'$2\times10^{5}$', r'$4\times10^{5}$', r'$6\times10^{5}$', r'$8\times10^{5}$', r'$1\times10^{6}$'],
        [-5, 0, 0, 0, 0, 0])

# Panel 4: p 40 keV
ax = axes[3]
ax.plot(t_arr(P40_t), t_arr(P40_v) * 1e3, color=BLUE, lw=1.0)
ax.set_ylim(0, 3.5e4)
ax.yaxis.set_minor_locator(MultipleLocator(1e3))
ylabels(ax, [5e3, 1e4, 1.5e4, 2e4, 2.5e4, 3e4, 3.5e4],
        [r'$5.0\times10^{3}$', r'$1.0\times10^{4}$', r'$1.5\times10^{4}$', r'$2.0\times10^{4}$',
         r'$2.5\times10^{4}$', r'$3.0\times10^{4}$', r'$3.5\times10^{4}$'],
        [0, 0, 0, 0, 0, 0, 5])

# Panel 5: SYM-H
ax = axes[4]
st = t_arr(SYMH_t)
sv = t_arr(SYMH_v)
ax.axhline(0, color=NAVY, lw=1.0, ls=(0, (7, 5)), zorder=1)
ax.plot(st, sv, color=NAVY, lw=1.0, zorder=2)
g = (st >= GREEN_INTERVAL[0]) & (st <= GREEN_INTERVAL[1])
r = (st >= RED_INTERVAL[0]) & (st <= RED_INTERVAL[1])
ax.plot(st[g], sv[g], color=GREEN, lw=3.2, zorder=3, solid_capstyle='round')
ax.plot(st[r], sv[r], color=RED, lw=3.2, zorder=3, solid_capstyle='round')
ax.set_ylim(-205, 28)
ax.yaxis.set_minor_locator(MultipleLocator(10))
ylabels(ax, [-200, -150, -100, -50, 0], ['\u2212200', '\u2212150', '\u2212100', '\u221250', '0'])

# Panel 6: AE
ax = axes[5]
ax.plot(t_arr(AE_t), t_arr(AE_v), color=NAVY, lw=1.0)
ax.set_ylim(-10, 2214)
ax.yaxis.set_minor_locator(MultipleLocator(100))
ylabels(ax, [500, 1000, 1500, 2000], ['500', '1000', '1500', '2000'])

# Panel 7: ULF
ax = axes[6]
ax.plot(t_arr(ULF_t), t_arr(ULF_v), color=DRED, lw=1.0)
ax.set_ylim(2, 182)
ax.yaxis.set_minor_locator(MultipleLocator(10))
ylabels(ax, [50, 100, 150], ['50', '100', '150'])

# Panel 8: VLF
ax = axes[7]
ax.vlines(t_arr(VLF_t), 0, t_arr(VLF_v), color=DRED, lw=1.2)
ax.axhline(0.004, color=DRED, lw=1.0, ls=(0, (3, 3)))
ax.set_ylim(-0.004, 1.005)
ax.yaxis.set_minor_locator(MultipleLocator(0.05))
ylabels(ax, [0.2, 0.4, 0.6, 0.8, 1.0], ['0.2', '0.4', '0.6', '0.8', '1.0'], [0, 0, 0, 1, 8])

# Panel 9: V
ax = axes[8]
ax.plot(t_arr(V_t), t_arr(V_v), color=NAVY, lw=1.0)
ax.set_ylim(313, 672)
ax.yaxis.set_minor_locator(MultipleLocator(10))
ylabels(ax, [400, 500, 600], ['400', '500', '600'])

# Panel 10: N
ax = axes[9]
ax.plot(t_arr(N_t), t_arr(N_v), color=NAVY, lw=1.0)
ax.set_ylim(1.6, 35.5)
ax.yaxis.set_minor_locator(MultipleLocator(1))
ylabels(ax, [5, 10, 15, 20, 25, 30, 35], ['5', '10', '15', '20', '25', '30', '35'], [0, 0, 0, 0, 0, 0, 8])
ax.tick_params(axis='x', labelbottom=True, labelsize=13, pad=13)
ax.set_xticklabels(DAY_LABELS)

# ---------------- TEXT ----------------
fig.text(*px(576, 22), 'August\u2212September 2018', ha='center', va='center', fontsize=18.5, color=TXT)
fig.text(*px(576, 1369), 'Days', ha='center', va='center', fontsize=15, color=TXT, fontweight='bold')

ylab = [(66, 106, 'Flux, e'), (35, 234, 'Flux, e'), (39, 362, 'Flux, e'), (22, 490, 'Flux, p'),
        (61, 1132, 'V, km/s'), (73, 1260, r'N, cm$^{-3}$')]
for x, y, s in ylab:
    fig.text(*px(x, y), s, rotation=90, ha='center', va='center', fontsize=14.5, color=TXT)

kw = dict(fontsize=18, color=TXT, style='italic', va='center')
fig.text(*px(995, 60), 'G13,  e,  \u27e9  2  MeV', ha='right', family=['DejaVu Serif', 'DejaVu Sans'], **kw)
fig.text(*px(997, 192), 'G13,  e,  475  keV', ha='right', **kw)
fig.text(*px(981, 330), 'G13,  e,  40  keV', ha='right', **kw)
fig.text(*px(981, 474), 'G13,  p,  40  keV', ha='right', **kw)
fig.text(*px(188, 613), r'$SYM\!-\!H$', ha='left', fontsize=19, color=TXT, va='center')
fig.text(*px(187, 722), r'$AE$', ha='left', fontsize=19, color=TXT, va='center')
fig.text(*px(189, 850), r'$ULF_{ground}$', ha='left', fontsize=19, color=TXT, va='center')
fig.text(*px(189, 970), 'VLF,  Arase', ha='left', **kw)
fig.text(*px(937, 1086), 'OMNI,  V', ha='right', **kw)
fig.text(*px(937, 1213), 'OMNI,  N', ha='right', **kw)

fig.savefig('out.png', dpi=100)
